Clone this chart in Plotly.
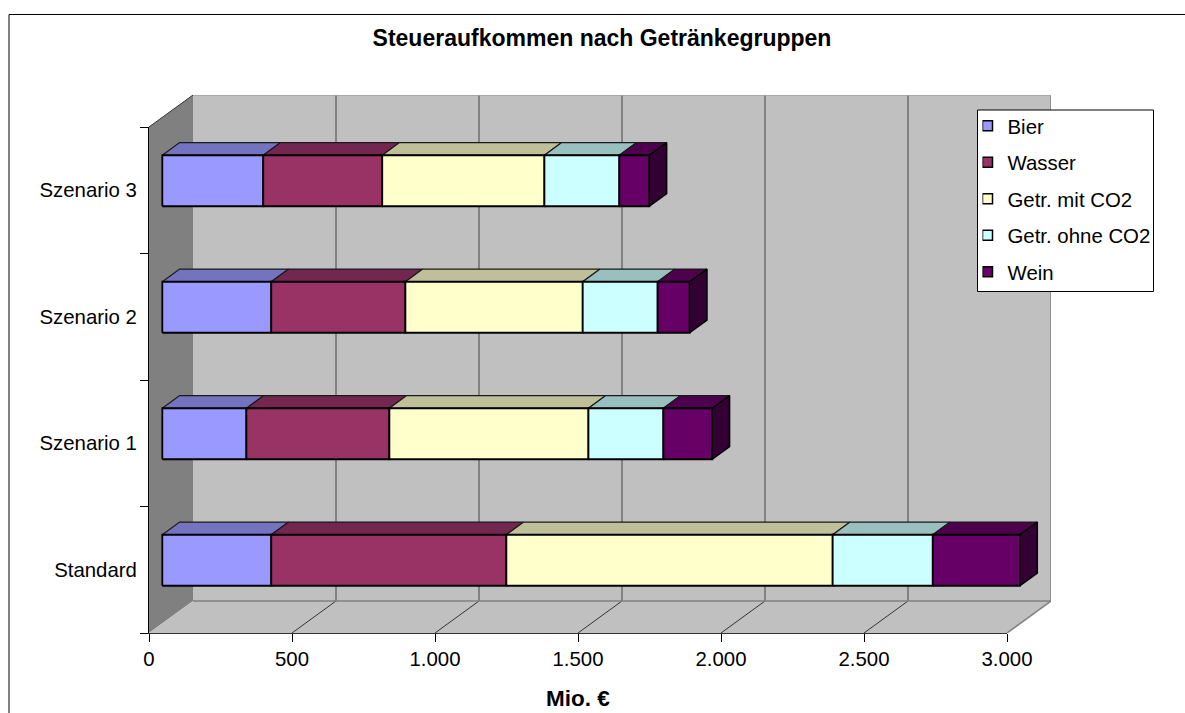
import plotly.graph_objects as go

# Revenue per drink group (million euros), one value per scenario
SCENARIOS = ["Standard", "Szenario 1", "Szenario 2", "Szenario 3"]
BIER = [381, 294, 381, 353]
WASSER = [822, 500, 469, 416]
GETR_MIT_CO2 = [1141, 696, 620, 567]
GETR_OHNE_CO2 = [350, 262, 262, 262]
WEIN = [305, 171, 112, 105]

SERIES_NAMES = ["Bier", "Wasser", "Getr. mit CO2", "Getr. ohne CO2", "Wein"]
SERIES_VALUES = [BIER, WASSER, GETR_MIT_CO2, GETR_OHNE_CO2, WEIN]
FRONT_COLORS = ["#9999FF", "#993366", "#FFFFCC", "#CCFFFF", "#660066"]
TOP_COLORS = ["#7373BF", "#732650", "#BFBF99", "#99BFBF", "#4D004D"]
SIDE_COLOR = "#330033"

X_TICKS = [0, 500, 1000, 1500, 2000, 2500, 3000]
X_MAX = 3000
Y_MAX = len(SCENARIOS)

# Front plane of the chart box in pixels; the depth extends it up and to the right
WIDTH, HEIGHT = 1185, 713
LEFT, FRONT_RIGHT, FRONT_TOP, BOTTOM = 149, 1007, 127, 633
DEPTH_PX_X, DEPTH_PX_Y = 44, 32
BOX_RIGHT, BOX_TOP = FRONT_RIGHT + DEPTH_PX_X, FRONT_TOP - DEPTH_PX_Y
PX_X = (FRONT_RIGHT - LEFT) / X_MAX
PX_Y = (BOTTOM - FRONT_TOP) / Y_MAX

# Oblique projection: depth of the box and of each bar, in axis units
BOX_DX, BOX_DY = DEPTH_PX_X / PX_X, DEPTH_PX_Y / PX_Y
BAR_DX, BAR_DY = 17.3 / PX_X, 12.7 / PX_Y
BAR_START = 13.3 / PX_X
BAR_LIFT = 9.5 / PX_Y
BAR_HALF = 25.5 / PX_Y

FONT = "Liberation Sans"


def paper_x(px):
    return (px - LEFT) / (BOX_RIGHT - LEFT)


def paper_y(px):
    return (BOTTOM - px) / (BOTTOM - BOX_TOP)


def split_paths(paths):
    xs, ys = [], []
    for path in paths:
        for x, y in path:
            xs.append(x)
            ys.append(y)
        xs.append(None)
        ys.append(None)
    return xs, ys


def area(paths, fill, line_color="rgba(0,0,0,0)", line_width=0):
    xs, ys = split_paths(paths)
    return go.Scatter(
        x=xs, y=ys, mode="lines", fill="toself", fillcolor=fill,
        line=dict(color=line_color, width=line_width),
        cliponaxis=False, showlegend=False, hoverinfo="skip",
    )


def lines(paths, color, width):
    xs, ys = split_paths(paths)
    return go.Scatter(
        x=xs, y=ys, mode="lines", line=dict(color=color, width=width),
        cliponaxis=False, showlegend=False, hoverinfo="skip",
    )


fig = go.Figure()

# Chart box: side wall, back wall, floor
fig.add_trace(area([[(0, 0), (BOX_DX, BOX_DY), (BOX_DX, Y_MAX + BOX_DY), (0, Y_MAX)]], "#808080"))
fig.add_trace(area([[(BOX_DX, BOX_DY), (X_MAX + BOX_DX, BOX_DY),
                     (X_MAX + BOX_DX, Y_MAX + BOX_DY), (BOX_DX, Y_MAX + BOX_DY)]], "#C0C0C0"))
fig.add_trace(area([[(0, 0), (X_MAX, 0), (X_MAX + BOX_DX, BOX_DY), (BOX_DX, BOX_DY)]], "#C0C0C0"))

# Grid on the back wall and its continuation across the floor
wall_ticks = [t for t in X_TICKS if 0 < t < X_MAX]
fig.add_trace(lines([[(t + BOX_DX, BOX_DY), (t + BOX_DX, Y_MAX + BOX_DY)] for t in wall_ticks],
                    "#444444", 1))
fig.add_trace(lines([[(t, 0), (t + BOX_DX, BOX_DY)] for t in wall_ticks], "#333333", 1))

# Box edges
fig.add_trace(lines([[(BOX_DX, BOX_DY), (X_MAX + BOX_DX, BOX_DY)],
                     [(X_MAX, 0), (X_MAX + BOX_DX, BOX_DY), (X_MAX + BOX_DX, Y_MAX + BOX_DY)]],
                    "#808080", 1.5))
fig.add_trace(lines([[(BOX_DX, Y_MAX + BOX_DY), (X_MAX + BOX_DX, Y_MAX + BOX_DY)]], "#A0A0A0", 1.5))
fig.add_trace(lines([[(0, Y_MAX), (BOX_DX, Y_MAX + BOX_DY)]], "#333333", 1))

# Stacked bars: top faces and front faces for each group, side face on the last one
for s, values in enumerate(SERIES_VALUES):
    tops, fronts = [], []
    for c, value in enumerate(values):
        start = BAR_START + sum(SERIES_VALUES[k][c] for k in range(s))
        end = start + value
        low = c + 0.5 + BAR_LIFT - BAR_HALF
        high = c + 0.5 + BAR_LIFT + BAR_HALF
        fronts.append([(start, low), (end, low), (end, high), (start, high), (start, low)])
        tops.append([(start, high), (end, high), (end + BAR_DX, high + BAR_DY),
                     (start + BAR_DX, high + BAR_DY), (start, high)])
    fig.add_trace(area(tops, TOP_COLORS[s], "#1a1a1a", 1.2))
    fig.add_trace(area(fronts, FRONT_COLORS[s], "#000000", 1.8))

sides = []
for c in range(len(SCENARIOS)):
    end = BAR_START + sum(values[c] for values in SERIES_VALUES)
    low = c + 0.5 + BAR_LIFT - BAR_HALF
    high = c + 0.5 + BAR_LIFT + BAR_HALF
    sides.append([(end, low), (end + BAR_DX, low + BAR_DY), (end + BAR_DX, high + BAR_DY),
                  (end, high), (end, low)])
fig.add_trace(area(sides, SIDE_COLOR, "#000000", 1.5))

# Legend entries live on the visible axes
for name, color in zip(SERIES_NAMES, FRONT_COLORS):
    fig.add_trace(go.Scatter(
        x=[None], y=[None], xaxis="x2", yaxis="y2", mode="markers", name=name, legendgroup=name,
        marker=dict(symbol="square", size=10, color=color, line=dict(color="#000000", width=1.5)),
    ))

front_width = (FRONT_RIGHT - LEFT) / (BOX_RIGHT - LEFT)
front_height = (BOTTOM - FRONT_TOP) / (BOTTOM - BOX_TOP)

fig.update_layout(
    width=WIDTH, height=HEIGHT,
    margin=dict(l=LEFT, r=WIDTH - BOX_RIGHT, t=BOX_TOP, b=HEIGHT - BOTTOM, autoexpand=False),
    paper_bgcolor="#FFFFFF", plot_bgcolor="rgba(0,0,0,0)",
    separators=",.",
    font=dict(family=FONT, size=20.4, color="#000000"),
    title=dict(text="<b>Steueraufkommen nach Getränkegruppen</b>",
               x=602 / WIDTH, xanchor="center", y=1 - 37.5 / HEIGHT, yanchor="middle",
               font=dict(family=FONT, size=23, color="#000000")),
    # The legend sits on its own framed panel so the rows can start closer to the top edge
    legend=dict(x=paper_x(982.5), xanchor="left", y=paper_y(106), yanchor="top",
                bgcolor="rgba(0,0,0,0)", borderwidth=0,
                font=dict(family=FONT, size=20.4, color="#000000"),
                indentation=-15, tracegroupgap=7, traceorder="grouped"),
    # Full box including the depth; carries the faces and stays hidden
    xaxis=dict(domain=[0, 1], range=[0, X_MAX / front_width], visible=False),
    yaxis=dict(domain=[0, 1], range=[0, Y_MAX / front_height], visible=False),
    # Front plane of the box; carries ticks, labels and titles
    xaxis2=dict(domain=[0, front_width], anchor="y2", range=[0, X_MAX],
                tickmode="array", tickvals=X_TICKS, tickformat=",d",
                ticks="outside", ticklen=8, tickcolor="#000000", tickwidth=1,
                showgrid=False, zeroline=False, showline=True, linecolor="#333333", linewidth=1,
                title=dict(text="<b>Mio. €</b>", standoff=20,
                           font=dict(family=FONT, size=22.5, color="#000000"))),
    yaxis2=dict(domain=[0, front_height], anchor="x2", range=[0, Y_MAX], tickmode="array",
                tickvals=[i + 0.5 for i in range(len(SCENARIOS))], ticktext=SCENARIOS,
                ticks="", ticklabelstandoff=7, showgrid=False, zeroline=False,
                showline=True, linecolor="#000000", linewidth=1,
                minor=dict(tickmode="array", tickvals=list(range(Y_MAX + 1)),
                           ticks="outside", ticklen=8, tickcolor="#000000", tickwidth=1,
                           showgrid=False)),
    shapes=[
        dict(type="rect", xref="paper", yref="paper", layer="below",
             x0=paper_x(9), x1=paper_x(1210), y0=paper_y(730), y1=paper_y(14.5),
             line=dict(color="#000000", width=1), fillcolor="rgba(0,0,0,0)"),
        dict(type="rect", xref="paper", yref="paper", layer="above",
             x0=paper_x(977.5), x1=paper_x(1153.5), y0=paper_y(291.5), y1=paper_y(110),
             line=dict(color="#000000", width=1), fillcolor="#FFFFFF"),
    ],
)

fig.write_html("out.html")
